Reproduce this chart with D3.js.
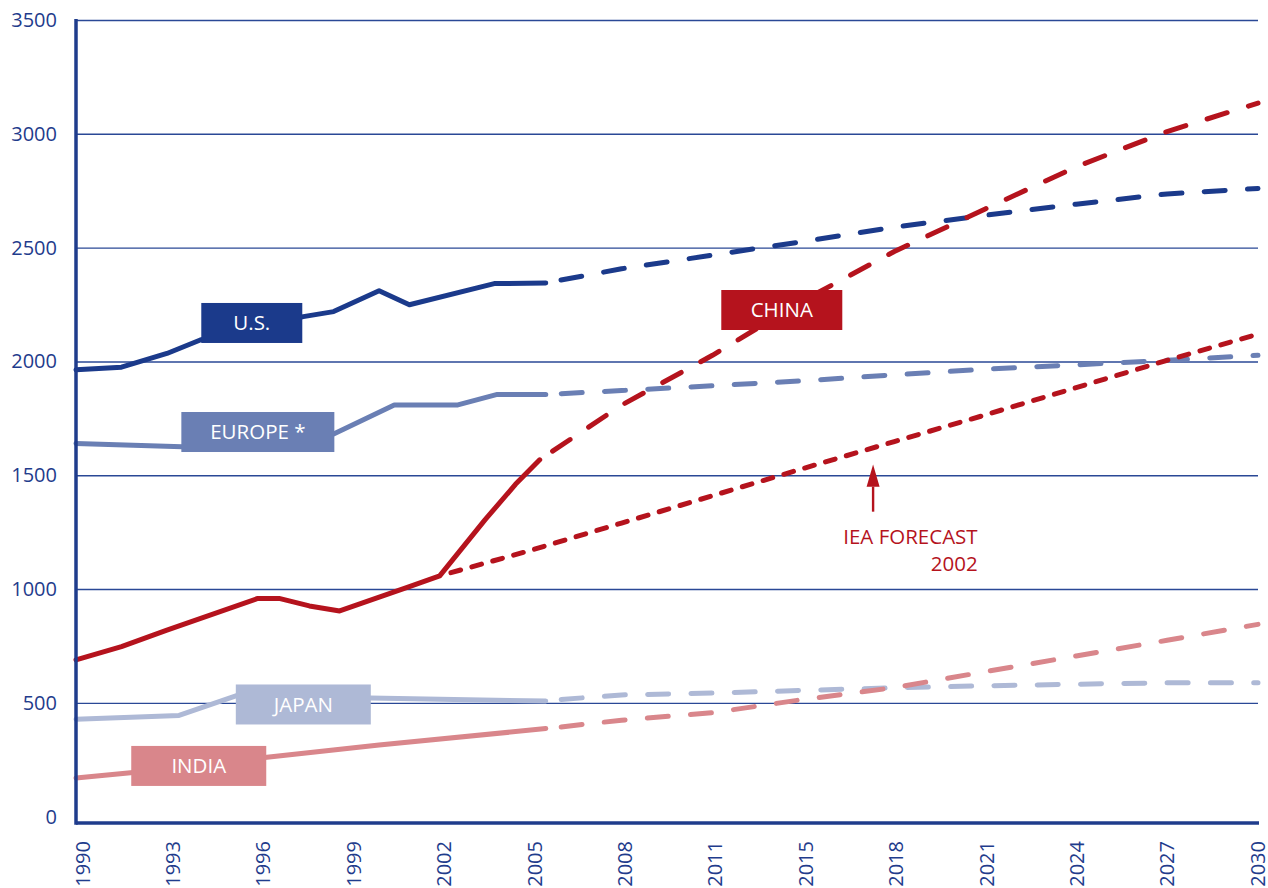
<!DOCTYPE html>
<html>
<head>
<meta charset="utf-8">
<script src="https://cdn.jsdelivr.net/npm/d3@7"></script>
<style>
  body { margin: 0; background: #fff; }
  svg { display: block; font-family: "Open Sans", "Noto Sans", sans-serif; }
</style>
</head>
<body>
<div id="chart"></div>
<script>
// x axis labels (evenly spaced, 2011 -> 2015 is one step)
var yearTicks = [1990, 1993, 1996, 1999, 2002, 2005, 2008, 2011, 2015, 2018, 2021, 2024, 2027, 2030];
var valueTicks = [0, 500, 1000, 1500, 2000, 2500, 3000, 3500];

// U.S.
var usYears = [1990, 1991.5, 1993, 1994.1, 1997.5, 1998.5, 2000, 2001, 2003.8, 2005.5];
var usValues = [1963, 1975, 2035, 2094, 2197, 2219, 2311, 2249, 2342, 2345];
var usFcYears = [2005.5, 2008, 2011, 2015, 2018, 2021, 2024, 2027, 2030];
var usFcValues = [2345, 2407, 2467, 2527, 2590, 2642, 2691, 2736, 2760];

// Europe
var euYears = [1990, 1993.5, 1997.6, 1998.5, 2000.5, 2002.6, 2003.9, 2005.5];
var euValues = [1640, 1625, 1632, 1681, 1809, 1809, 1855, 1855];
var euFcYears = [2005.5, 2008, 2011, 2015, 2018, 2021, 2024, 2027, 2030];
var euFcValues = [1855, 1872, 1893, 1915, 1941, 1966, 1985, 2005, 2027];

// China
var cnYears = [1990, 1991.5, 1993, 1996, 1996.7, 1997.7, 1998.7, 2001, 2002, 2003.5, 2004.5, 2005.3];
var cnValues = [689, 747, 820, 959, 959, 926, 904, 1011, 1058, 1305, 1460, 1568];
var cnFcYears = [2005.3, 2008, 2011, 2015, 2018, 2021, 2024, 2027, 2030];
var cnFcValues = [1568, 1808, 2027, 2268, 2483, 2670, 2855, 3010, 3135];

// IEA forecast 2002 for China
var ieaYears = [2002, 2005, 2008, 2011, 2015, 2018, 2021, 2024, 2027, 2030];
var ieaValues = [1058, 1170, 1290, 1410, 1530, 1648, 1765, 1885, 2005, 2120];

// Japan
var jpYears = [1990, 1993.4, 1995.3, 1996, 1999.7, 2005.5];
var jpValues = [428, 445, 532, 540, 521, 508];
var jpFcYears = [2005.5, 2008, 2011, 2015, 2018, 2021, 2024, 2027, 2030];
var jpFcValues = [510, 535, 543, 555, 566, 575, 582, 588, 588];

// India
var inYears = [1990, 1991.8, 1996.3, 2000, 2005.5];
var inValues = [170, 193, 261, 315, 387];
var inFcYears = [2005.5, 2008, 2011, 2015, 2018, 2021, 2024, 2027, 2030];
var inFcValues = [387, 424, 457, 515, 567, 637, 706, 775, 845];

var W = 1268, H = 888;
var plotLeft = 76, plotRight = 1258, plotTop = 20, zeroY = 816.7, axisY = 823;
var axisColor = "#1f3c8c";

var colors = {
    us: "#1b3a8b",
    eu: "#6a7fb4",
    cn: "#b5131d",
    jp: "#aeb9d6",
    ind: "#d9868b"
};

var svg = d3.select("#chart")
    .append("svg")
    .attr("width", W)
    .attr("height", H);

// piecewise x scale: equal spacing per label step
var step = (plotRight - plotLeft) / (yearTicks.length - 1);
var x = d3.scaleLinear()
    .domain([1990, 2011, 2015, 2030])
    .range([plotLeft, plotLeft + 7 * step, plotLeft + 8 * step, plotRight]);

// labels sit a bit right of the axis at 1990
var xLab = d3.scalePoint()
    .domain(yearTicks)
    .range([82, plotRight - 1]);

var y = d3.scaleLinear()
    .domain([0, 3500])
    .range([zeroY, plotTop]);

// gridlines
var grid = svg.append("g")
    .attr("transform", "translate(" + plotLeft + ",0)")
    .call(d3.axisLeft(y).tickValues(valueTicks.slice(1)).tickSize(-(plotRight - plotLeft)).tickFormat(""));
grid.select(".domain").remove();
grid.selectAll("line").attr("stroke", "#2a4896").attr("stroke-width", 1.4);

// y labels
var yAxis = svg.append("g")
    .attr("transform", "translate(" + plotLeft + ",0)")
    .call(d3.axisLeft(y).tickValues(valueTicks).tickFormat(d3.format("d")).tickSize(0).tickPadding(19));
yAxis.select(".domain").remove();
yAxis.selectAll("text")
    .attr("fill", axisColor)
    .style("font-size", "20px")
    .style("font-family", "'Open Sans', sans-serif");

// x labels
var xAxis = svg.append("g")
    .attr("transform", "translate(0," + axisY + ")")
    .call(d3.axisBottom(xLab).tickSize(0));
xAxis.select(".domain").remove();
xAxis.selectAll("text")
    .attr("transform", "rotate(-90)")
    .attr("x", -18)
    .attr("y", 0)
    .attr("dy", "0.36em")
    .attr("fill", axisColor)
    .style("text-anchor", "end")
    .style("font-size", "20px")
    .style("font-family", "'Open Sans', sans-serif");

var line = d3.line()
    .x(function (d) { return x(d[0]); })
    .y(function (d) { return y(d[1]); });

function pairs(xs, vs) {
    return xs.map(function (v, i) { return [v, vs[i]]; });
}

function drawSeries(xs, vs, color, dash, offset) {
    var p = svg.append("path")
        .datum(pairs(xs, vs))
        .attr("d", line)
        .attr("fill", "none")
        .attr("stroke", color)
        .attr("stroke-width", 5)
        .attr("stroke-linejoin", "round")
        .attr("stroke-linecap", "round");
    if (dash) {
        p.attr("stroke-dasharray", dash).attr("stroke-dashoffset", offset);
    }
}

var longDash = "21 22.3";
var shortDash = "10 11.7";

drawSeries(jpYears, jpValues, colors.jp);
drawSeries(jpFcYears, jpFcValues, colors.jp, longDash, 27.8);
drawSeries(inYears, inValues, colors.ind);
drawSeries(inFcYears, inFcValues, colors.ind, longDash, 27.8);
drawSeries(euYears, euValues, colors.eu);
drawSeries(euFcYears, euFcValues, colors.eu, longDash, 27.8);
drawSeries(usYears, usValues, colors.us);
drawSeries(usFcYears, usFcValues, colors.us, longDash, 27.8);
drawSeries(cnYears, cnValues, colors.cn);
drawSeries(cnFcYears, cnFcValues, colors.cn, longDash, 27.8);
drawSeries(ieaYears, ieaValues, colors.cn, shortDash, 10);

// axis lines
svg.append("line")
    .attr("x1", plotLeft).attr("x2", plotLeft)
    .attr("y1", plotTop - 1).attr("y2", axisY + 1.7)
    .attr("stroke", axisColor).attr("stroke-width", 3.5);
svg.append("line")
    .attr("x1", plotLeft).attr("x2", plotRight + 1)
    .attr("y1", axisY).attr("y2", axisY)
    .attr("stroke", axisColor).attr("stroke-width", 3.5);

// name boxes, centred at (year, value)
var boxNames = ["U.S.", "EUROPE *", "CHINA", "JAPAN", "INDIA"];
var boxYears = [1995.8, 1996.0, 2014.05, 1997.5, 1994.05];
var boxValues = [2169, 1690, 2226, 493, 223];
var boxWidths = [101, 153, 121, 135, 135];
var boxColors = [colors.us, colors.eu, colors.cn, colors.jp, colors.ind];

var boxes = svg.selectAll("g.box")
    .data(boxNames)
    .enter()
    .append("g")
    .attr("class", "box")
    .attr("transform", function (d, i) {
        return "translate(" + x(boxYears[i]) + "," + y(boxValues[i]) + ")";
    });
boxes.append("rect")
    .attr("x", function (d, i) { return -boxWidths[i] / 2; })
    .attr("y", -20)
    .attr("width", function (d, i) { return boxWidths[i]; })
    .attr("height", 40)
    .attr("fill", function (d, i) { return boxColors[i]; });
boxes.append("text")
    .attr("text-anchor", "middle")
    .attr("dy", "0.36em")
    .attr("fill", "#fff")
    .style("font-size", "20.5px")
    .text(function (d) { return d; });

// IEA annotation
var arrowX = x(2017.3);
svg.append("line")
    .attr("x1", arrowX).attr("x2", arrowX)
    .attr("y1", y(1340)).attr("y2", y(1450))
    .attr("stroke", colors.cn).attr("stroke-width", 2.4);
svg.append("path")
    .attr("d", "M" + arrowX + "," + y(1547) +
        "L" + (arrowX + 6.5) + "," + y(1450) +
        "L" + (arrowX - 6.5) + "," + y(1450) + "Z")
    .attr("fill", colors.cn);

var note = svg.append("text")
    .attr("x", x(2020.75))
    .attr("y", y(1198))
    .attr("text-anchor", "end")
    .attr("fill", colors.cn)
    .style("font-size", "20.5px");
note.append("tspan").attr("x", x(2020.75)).text("IEA FORECAST");
note.append("tspan").attr("x", x(2020.75)).attr("dy", 27).text("2002");
</script>
</body>
</html>
